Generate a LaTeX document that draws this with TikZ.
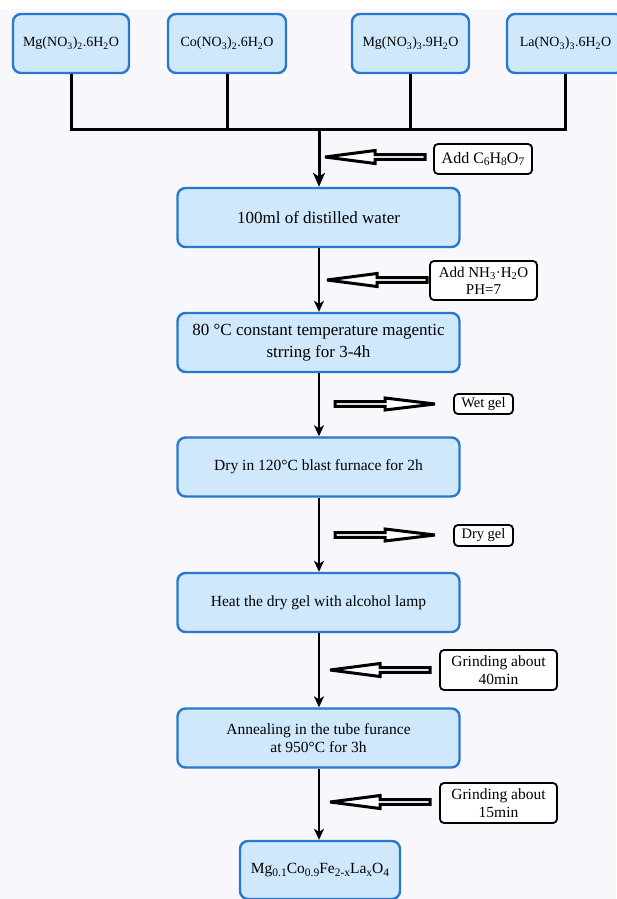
\documentclass[tikz,border=0pt]{standalone}
\usepackage{fontspec}
\setmainfont{Liberation Serif}
\usetikzlibrary{arrows.meta}
\definecolor{boxfill}{HTML}{CFE8FB}
\definecolor{boxdraw}{HTML}{2A78CE}
\definecolor{bgcol}{HTML}{F8F8FC}
\newcommand\chsub[1]{\raisebox{-0.4ex}{\fontsize{11.5}{12}\selectfont #1}}
\tikzset{
  topbox/.style={draw=boxdraw, fill=boxfill, line width=2.4pt, rounded corners=8pt,
    minimum width=116pt, minimum height=59pt, inner sep=0pt, font=\fontsize{14}{17}\selectfont},
  mainbox/.style={draw=boxdraw, fill=boxfill, line width=2.4pt, rounded corners=8pt,
    minimum width=282pt, minimum height=59pt, inner sep=0pt, align=center,
    font=\fontsize{15.5}{20}\selectfont},
  sidebox/.style={draw=black, fill=white, line width=1.8pt, rounded corners=4pt,
    inner sep=0pt, align=center, font=\fontsize{15.5}{19}\selectfont},
  conn/.style={draw=black, line width=1.8pt, -{Stealth[length=11pt,width=10pt,inset=3pt]}},
  feed/.style={draw=black, line width=3pt},
  harrow/.style={draw=black, fill=white, line width=3pt, line join=miter, miter limit=3},
  hollowL/.pic={\path[harrow] (0,0) -- (50,6.5) -- (50,2.4) -- (100,2.4) -- (100,-2.4) -- (50,-2.4) -- (50,-6.5) -- cycle;},
  hollowR/.pic={\path[harrow] (0,0) -- (-50,6) -- (-50,2.4) -- (-100,2.4) -- (-100,-2.4) -- (-50,-2.4) -- (-50,-6) -- cycle;}
}
\begin{document}
\begin{tikzpicture}[x=1pt,y=-1pt]
\fill[bgcol] (0,0) rectangle (616,899);
\fill[white] (0,0) rectangle (616,9);
\useasboundingbox (0,0) rectangle (616,899);

% top boxes
\node[topbox] (t1) at (71,43.5) {Mg(NO\textsubscript{3})\textsubscript{2}.6H\textsubscript{2}O};
\node[topbox, minimum width=118pt] (t2) at (227,43.5) {Co(NO\textsubscript{3})\textsubscript{2}.6H\textsubscript{2}O};
\node[topbox, minimum width=117pt] (t3) at (410.5,43.5) {Mg(NO\textsubscript{3})\textsubscript{3}.9H\textsubscript{2}O};
\node[topbox, minimum width=117pt] (t4) at (565.5,43.5) {La(NO\textsubscript{3})\textsubscript{3}.6H\textsubscript{2}O};

% main boxes
\node[mainbox, font=\fontsize{17}{21}\selectfont] (b1) at (318.5,217.5) {100ml of distilled water};
\node[mainbox, font=\fontsize{17}{22}\selectfont] (b2) at (318.5,342.5) {80 \textdegree C constant temperature magentic\\strring for 3-4h};
\node[mainbox] (b3) at (318.5,467) {Dry in 120\textdegree C blast furnace for 2h};
\node[mainbox] (b4) at (318.5,602.5) {Heat the dry gel with alcohol lamp};
\node[mainbox, font=\fontsize{15.5}{18.5}\selectfont] (b5) at (318.5,738) {Annealing in the tube furance\\at 950\textdegree C for 3h};
\node[mainbox, minimum width=160pt, minimum height=58pt] (b6) at (320,870) {Mg\chsub{0.1}Co\chsub{0.9}Fe\chsub{2-x}La\chsub{x}O\chsub{4}};

% side boxes
\node[sidebox, minimum width=98pt, minimum height=30pt, font=\fontsize{16}{19}\selectfont] (s1) at (483,159) {Add C\chsub{6}H\chsub{8}O\chsub{7}};
\node[sidebox, minimum width=107pt, minimum height=39pt, font=\fontsize{15}{17}\selectfont] (s2) at (483.5,280.5) {Add NH\textsubscript{3}·H\textsubscript{2}O\\PH=7};
\node[sidebox, minimum width=59pt, minimum height=20pt, font=\fontsize{14.5}{17}\selectfont] (s3) at (483.5,404) {Wet gel};
\node[sidebox, minimum width=59pt, minimum height=21pt, font=\fontsize{14.5}{17}\selectfont] (s4) at (483.5,535.5) {Dry gel};
\node[sidebox, minimum width=117pt, minimum height=40pt, font=\fontsize{15.5}{18}\selectfont] (s5) at (498.5,670) {Grinding about\\40min};
\node[sidebox, minimum width=117pt, minimum height=40pt, font=\fontsize{15.5}{18}\selectfont] (s6) at (498.5,803) {Grinding about\\15min};

% feed lines
\coordinate (j) at (319,129);
\draw[feed] (t1.south) -- (t1.south |- j) -- (t4.south |- j) -- (t4.south);
\draw[feed] (t2.south) -- (t2.south |- j);
\draw[feed] (t3.south) -- (t3.south |- j);
\draw[conn, line width=3pt, -{Stealth[length=14pt,width=12pt,inset=4pt]}] (j) -- (j |- b1.north);

% vertical connectors
\draw[conn] (b1.south -| j) -- (b2.north -| j);
\draw[conn] (b2.south -| j) -- (b3.north -| j);
\draw[conn] (b3.south -| j) -- (b4.north -| j);
\draw[conn] (b4.south -| j) -- (b5.north -| j);
\draw[conn] (b5.south -| j) -- (b6.north -| j);

% hollow arrows
\pic at (325,157) {hollowL};
\pic at (327,280) {hollowL};
\pic at (435,404) {hollowR};
\pic at (435,535) {hollowR};
\pic at (330,670) {hollowL};
\pic at (330,802) {hollowL};
\end{tikzpicture}
\end{document}
